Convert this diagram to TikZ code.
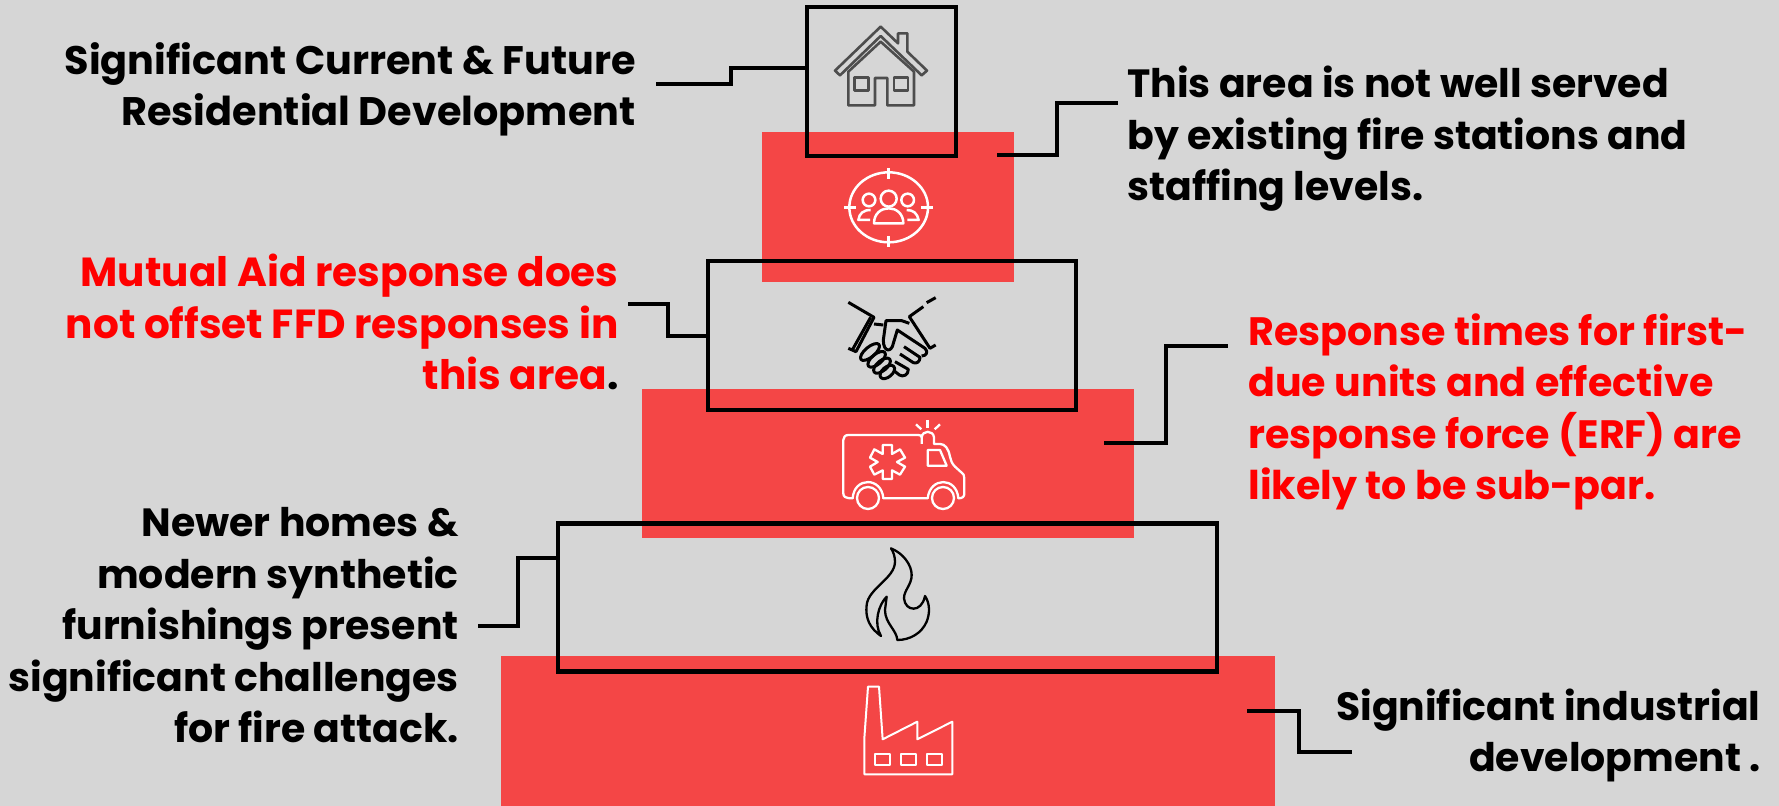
\documentclass[tikz,border=0pt]{standalone}
\usepackage{fontspec}
\setmainfont{Poppins}
\usepackage{xcolor}
\definecolor{pagegray}{HTML}{D6D6D6}
\definecolor{blockred}{HTML}{F44646}
\definecolor{labelred}{HTML}{FF0000}
\definecolor{icongray}{HTML}{4D4D4D}
\tikzset{
    redblock/.style={fill=blockred, inner sep=0pt, outer sep=0pt}, % filled tier
    frameblock/.style={draw=black, line width=2.2pt, inner sep=0pt, outer sep=0pt}, % outlined tier
    link/.style={draw=black, line width=2.1pt},
    label text/.style={font=\fontsize{#1}{25.8pt}\selectfont\bfseries, inner sep=0pt},
    label text/.default=19.7pt,
    icon line/.style={line width=#1, line join=round},
    icon line/.default=1pt
}

\begin{document}
\begin{tikzpicture}[x=0.5pt, y=-0.5pt]
    \useasboundingbox (0,0) rectangle (1779,806);
    \fill[pagegray] (0,0) rectangle (1779,806);

    % tiers
    \node[redblock, minimum width=126pt, minimum height=75pt] (targetblock) at (888,207) {};
    \node[redblock, minimum width=245.75pt, minimum height=74.5pt] (ambulanceblock) at (887.75,463.5) {};
    \node[redblock, minimum width=387pt, minimum height=75pt] (factoryblock) at (888,731) {};
    \node[frameblock, minimum width=74.5pt, minimum height=74.5pt] (houseblock) at (881.5,81.5) {};
    \node[frameblock, minimum width=184pt, minimum height=74.5pt] (handblock) at (892,335.5) {};
    \node[frameblock, minimum width=329.5pt, minimum height=74pt] (flameblock) at (887.5,597.5) {};

    % labels
    \node[label text=19.9pt, align=right, anchor=base east] (houselabel) at (636,126) {Significant Current \& Future\\Residential Development};
    \node[label text, align=left, anchor=base west] (targetlabel) at (1127,201) {This area is not well served\\by existing fire stations and\\staffing levels.};
    \node[label text=20.3pt, align=right, anchor=base east, text=labelred] (handlabel) at (619,390) {Mutual Aid response does\\not offset FFD responses in\\this area\textcolor{black}{.}};
    \node[label text=19.8pt, align=left, anchor=base west, text=labelred] (ambulancelabel) at (1248,500) {Response times for first-\\due units and effective\\response force (ERF) are\\likely to be sub-par.};
    \node[label text, align=right, anchor=base east] (flamelabel) at (459,743) {Newer homes \&\\modern synthetic\\furnishings present\\significant challenges\\for fire attack.};
    \node[label text, align=right, anchor=base east] (factorylabel) at (1761,772) {Significant industrial\\development .};

    % connectors
    \coordinate (housestart) at (656,84);
    \coordinate (houseend) at (807,68);
    \draw[link] (housestart) -- (731,84) -- (731,68) -- (houseend);
    \coordinate (targetstart) at (997,155);
    \coordinate (targetend) at (1118,103);
    \draw[link] (targetstart) -- (1057,155) -- (1057,103) -- (targetend);
    \coordinate (handstart) at (628,304);
    \coordinate (handend) at (708,336);
    \draw[link] (handstart) -- (668,304) -- (668,336) -- (handend);
    \coordinate (ambulancestart) at (1104,443);
    \coordinate (ambulanceend) at (1228,346);
    \draw[link] (ambulancestart) -- (1166,443) -- (1166,346) -- (ambulanceend);
    \coordinate (flamestart) at (478,626);
    \coordinate (flameend) at (558,558);
    \draw[link] (flamestart) -- (518,626) -- (518,558) -- (flameend);
    \coordinate (factorystart) at (1247,711);
    \coordinate (factoryend) at (1352,752);
    \draw[link] (factorystart) -- (1299,711) -- (1299,752) -- (factoryend);

    % house icon
    \begin{scope}[shift={(780,0)}, scale=1/3, icon line=1.3pt, draw=icongray]
        \draw (165,212) -- (302,80) -- (354,130) -- (354,100) -- (382,100) -- (382,155) -- (441,212) -- (425,226) -- (302,108) -- (180,226) -- cycle;
        \draw (205,215) -- (302,125) -- (402,215) -- (402,316) -- (322,316) -- (322,234) -- (285,234) -- (285,316) -- (205,316) -- cycle;
        \draw (223,233) rectangle (265,272);
        \draw (342,233) rectangle (384,272);
    \end{scope}

    % target icon
    \begin{scope}[shift={(780,0)}, scale=1/3, icon line=1.25pt, draw=white]
        \draw (326,622) ellipse (118 and 105);
        \draw (326,504) -- (326,536) (326,708) -- (326,740) (192,622) -- (228,622) (424,622) -- (458,622);
        \draw (326,596) circle (24);
        \draw (267,600) circle (19);
        \draw (383,600) circle (19);
        \draw (282,670) .. controls (282,610) and (370,610) .. (370,670) -- cycle;
        \draw (270,660) -- (235,660) .. controls (238,640) and (250,630) .. (272,630);
        \draw (380,630) .. controls (400,630) and (412,640) .. (416,660) -- (382,660);
    \end{scope}

    % handshake icon
    \begin{scope}[shift={(780,280)}, scale=1/3, icon line=1.5pt]
        \draw (205,67) -- (282,112) -- (228,215) -- (205,205);
        \draw (272,112) -- (218,208);
        \draw (467,53) -- (440,68) (430,80) -- (388,110) -- (450,205) -- (467,195);
        \draw (282,132) -- (310,135);
        \draw (388,130) -- (365,122) -- (318,122) -- (310,180) .. controls (310,218) and (335,218) .. (340,190) -- (352,150) -- (435,205) .. controls (445,215) and (440,228) .. (425,228);
        \draw (372,200) -- (420,232) .. controls (420,245) and (410,252) .. (400,248) -- (360,222);
        \draw (345,245) -- (385,268) .. controls (385,285) and (370,292) .. (358,285) -- (342,272);
        \foreach \fx/\fy/\fa in {270/216/22, 290/238/20, 306/257/19, 322/276/16} {
            \draw[rotate around={40:(\fx,\fy)}] (\fx,\fy) ellipse (\fa*1.6 and 15);
        }
    \end{scope}

    % ambulance icon
    \begin{scope}[shift={(780,280)}, scale=1/3, icon line=1.15pt, draw=white]
        \draw (425,492) -- (425,472) .. controls (425,467) and (420,465) .. (415,465) -- (205,465) .. controls (195,465) and (190,472) .. (190,480) -- (190,640) .. controls (190,650) and (195,655) .. (218,655) .. controls (222,590) and (305,590) .. (310,655) -- (443,655) .. controls (450,590) and (530,590) .. (535,655) .. controls (548,655) and (553,650) .. (553,640) -- (553,595) .. controls (553,585) and (550,582) .. (545,578) -- (525,560) .. controls (515,550) and (512,540) .. (510,530) .. controls (505,505) and (495,492) .. (480,492) -- (462,492) -- (462,472) .. controls (460,450) and (427,450) .. (425,472);
        \draw (264,654) circle (33);
        \draw (489,654) circle (33);
        \draw (443,510) -- (480,510) -- (500,557) -- (443,557) -- cycle;
        \draw (308,495) -- (336,495) -- (336,522) -- (360,508) -- (375,533) -- (351,546) -- (375,560) -- (360,584) -- (336,571) -- (336,597) -- (308,597) -- (308,571) -- (283,584) -- (270,560) -- (293,546) -- (270,533) -- (283,508) -- (308,522) -- cycle;
        \draw[line width=1.7pt] (442,420) -- (442,443);
        \draw (408,433) -- (424,448) (480,433) -- (464,448);
    \end{scope}

    % flame icon
    \begin{scope}[shift={(780,530)}, scale=1/3, icon line=1.15pt]
        \draw (333,55) .. controls (370,70) and (395,105) .. (395,135) .. controls (395,165) and (372,180) .. (372,205) .. controls (375,245) and (425,250) .. (435,198) .. controls (450,220) and (450,250) .. (440,275) .. controls (425,310) and (390,330) .. (352,330) .. controls (350,300) and (315,280) .. (315,240) -- (320,200) .. controls (295,225) and (280,280) .. (303,318) .. controls (270,295) and (255,265) .. (260,225) .. controls (265,175) and (345,145) .. (345,95) .. controls (345,80) and (340,65) .. (333,55) -- cycle;
    \end{scope}

    % factory icon
    \begin{scope}[shift={(780,530)}, scale=1/3, icon line=1pt, draw=white]
        \draw (253,733) -- (253,625) -- (264,470) -- (297,470) -- (308,628) -- (412,575) -- (412,628) -- (517,575) -- (517,733) -- cycle;
        \foreach \wx in {285,362,440} {\draw (\wx,672) rectangle ++(46,34);}
    \end{scope}
\end{tikzpicture}
\end{document}
